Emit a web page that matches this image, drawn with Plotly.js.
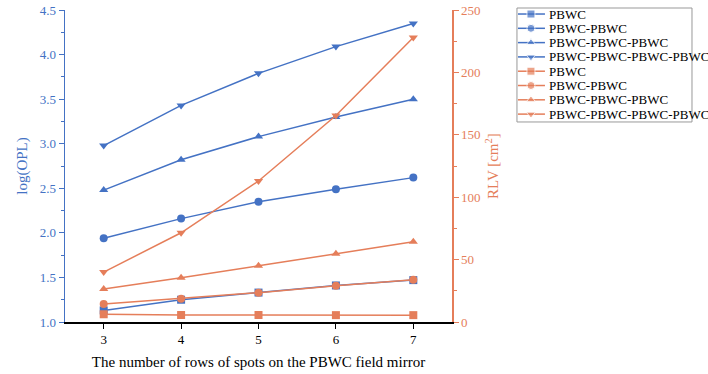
<!DOCTYPE html>
<html>
<head>
<meta charset="utf-8">
<script src="https://cdn.plot.ly/plotly-3.0.1.min.js"></script>
<style>
  body { margin: 0; background: #fff; }
  #plot { width: 708px; height: 374px; }
</style>
</head>
<body>
<div id="plot"></div>
<script>
const rows = [3, 4, 5, 6, 7];
const names = ["PBWC", "PBWC-PBWC", "PBWC-PBWC-PBWC", "PBWC-PBWC-PBWC-PBWC"];

// log(OPL), left axis
const opl_1 = [1.13, 1.25, 1.33, 1.41, 1.47];
const opl_2 = [1.94, 2.16, 2.35, 2.49, 2.62];
const opl_3 = [2.48, 2.82, 3.08, 3.30, 3.50];
const opl_4 = [2.98, 3.43, 3.79, 4.09, 4.35];

// RLV [cm^2], right axis
const rlv_1 = [6.2, 5.6, 5.6, 5.5, 5.5];
const rlv_2 = [14.5, 18.7, 23.5, 29.0, 33.8];
const rlv_3 = [26.5, 35.4, 45.0, 54.7, 64.3];
const rlv_4 = [40.0, 71.5, 113.0, 165.5, 228.0];

const blue = "#4472c4";
const orange = "#e57e5a";
const symbols = ["square", "circle", "triangle-up", "triangle-down"];
const font = "Liberation Serif, Times New Roman, serif";

const traces = [];
const legendItems = [];   // [name, color, symbol]
[opl_1, opl_2, opl_3, opl_4].forEach((y, i) => {
    traces.push({
        x: rows, y: y, name: names[i], mode: "lines+markers",
        line: {color: blue, width: 1.5},
        marker: {symbol: symbols[i], size: 8, color: blue},
        xaxis: "x", yaxis: "y"
    });
    legendItems.push([names[i], blue, symbols[i]]);
});
[rlv_1, rlv_2, rlv_3, rlv_4].forEach((y, i) => {
    traces.push({
        x: rows, y: y, name: names[i], mode: "lines+markers",
        line: {color: orange, width: 1.5},
        marker: {symbol: symbols[i], size: 8, color: orange},
        xaxis: "x", yaxis: "y2"
    });
    legendItems.push([names[i], orange, symbols[i]]);
});

// hand-made legend (plotly's own legend can't be packed this tight)
const annotations = [];
legendItems.forEach(([name, color, sym], i) => {
    traces.push({
        x: [1, 14, 28], y: [i, i, i], mode: "lines+markers",
        line: {color: color, width: 1.5},
        marker: {symbol: sym, size: [0, 8, 0], color: color},
        xaxis: "x3", yaxis: "y3", showlegend: false, hoverinfo: "skip"
    });
    annotations.push({
        xref: "x3", yref: "y3", x: 30, y: i, text: name, showarrow: false,
        xanchor: "left", yanchor: "middle",
        font: {family: font, size: 13, color: "#000"}
    });
});

const layout = {
    width: 708, height: 374,
    margin: {l: 65, r: 10, t: 5, b: 52},
    paper_bgcolor: "#fff", plot_bgcolor: "rgba(0,0,0,0)",
    font: {family: font, size: 13, color: "#000"},
    showlegend: false,
    annotations: annotations,
    shapes: [{
        type: "rect", xref: "paper", yref: "paper", x0: 0.714, x1: 0.9905, y0: 0.631, y1: 0.9905,
        line: {color: "#999", width: 1}
    }],
    xaxis: {
        domain: [0, 0.6114], range: [2.5, 7.5], tickvals: rows, showgrid: false, zeroline: false,
        showline: true, linecolor: "#000", linewidth: 1.5,
        ticks: "outside", ticklen: 5, tickcolor: "#000",
        tickfont: {family: font, size: 13, color: "#000"},
        title: {text: "The number of rows of spots on the PBWC field mirror", font: {family: font, size: 15, color: "#000"}, standoff: 10}
    },
    xaxis2: {
        domain: [0, 0.6114], overlaying: "x", side: "top", anchor: "y", range: [2.5, 7.5], tickvals: rows,
        showgrid: false, zeroline: false, showline: true, linecolor: "#000", linewidth: 1.5,
        ticks: "inside", ticklen: 5, tickcolor: "#000", showticklabels: false
    },
    yaxis: {
        domain: [0, 0.984], range: [1.0, 4.5], dtick: 0.5, tickformat: ".1f", showgrid: false, zeroline: false,
        showline: true, linecolor: blue, linewidth: 1.5,
        ticks: "outside", ticklen: 5, tickcolor: blue,
        minor: {ticks: "outside", dtick: 0.25, ticklen: 3, tickcolor: blue},
        tickfont: {family: font, size: 13, color: blue},
        title: {text: "log(OPL)", font: {family: font, size: 15, color: blue}, standoff: 8}
    },
    yaxis2: {
        overlaying: "y", side: "right", anchor: "x", range: [0, 250], dtick: 50, showgrid: false, zeroline: false,
        showline: true, linecolor: orange, linewidth: 1.5,
        ticks: "outside", ticklen: 5, tickcolor: orange,
        minor: {ticks: "outside", dtick: 25, ticklen: 3, tickcolor: orange},
        tickfont: {family: font, size: 13, color: orange},
        title: {text: "RLV [cm<sup>2</sup>]", font: {family: font, size: 15, color: orange}, standoff: 8}
    },
    xaxis3: {
        domain: [0.714, 0.9905], anchor: "y3", range: [0, 175], visible: false, fixedrange: true
    },
    yaxis3: {
        domain: [0.631, 0.9905], anchor: "x3", range: [7.55, -0.42], visible: false, fixedrange: true
    }
};

Plotly.newPlot("plot", traces, layout, {staticPlot: true});
</script>
</body>
</html>
